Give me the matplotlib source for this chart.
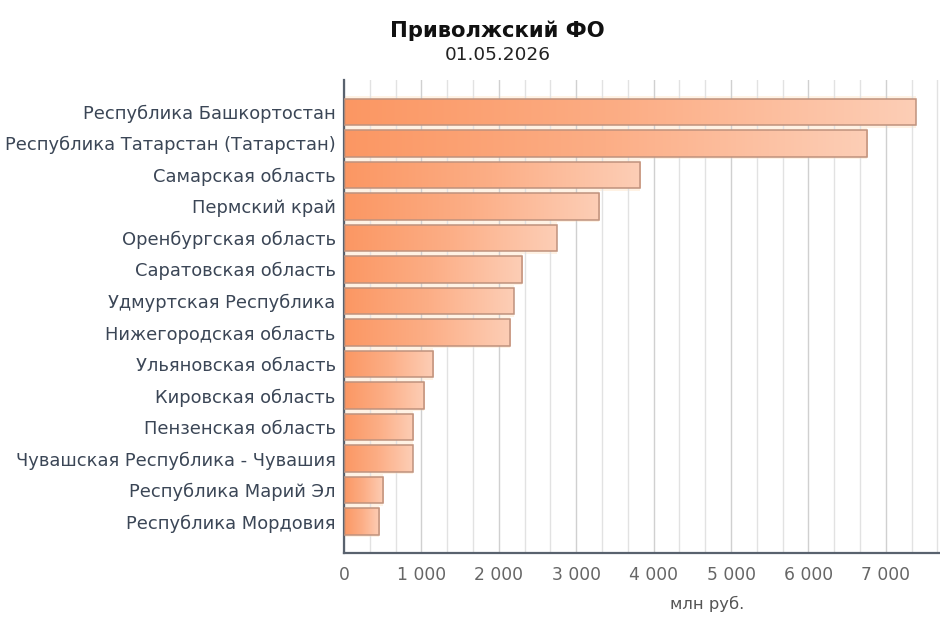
import numpy as np
import matplotlib
matplotlib.use('Agg')
import matplotlib.pyplot as plt
from matplotlib.colors import LinearSegmentedColormap
from matplotlib.ticker import MultipleLocator, FuncFormatter

plt.rcParams['font.family'] = ['DejaVu Sans']

regions = [
    'Республика Башкортостан',
    'Республика Татарстан (Татарстан)',
    'Самарская область',
    'Пермский край',
    'Оренбургская область',
    'Саратовская область',
    'Удмуртская Республика',
    'Нижегородская область',
    'Ульяновская область',
    'Кировская область',
    'Пензенская область',
    'Чувашская Республика - Чувашия',
    'Республика Марий Эл',
    'Республика Мордовия',
]
values = [7390, 6760, 3825, 3295, 2750, 2300, 2195, 2145, 1150, 1035, 895, 890, 505, 455]

title = 'Приволжский ФО'
date_label = '01.05.2026'
x_label = 'млн руб.'

fig = plt.figure(figsize=(9.4, 6.27), dpi=100)
ax = fig.add_axes([0.366, 0.118, 0.634, 0.754])

n = len(regions)
ypos = np.arange(n)
bar_h = 0.84
cmap = LinearSegmentedColormap.from_list('bar', ['#fb9763', '#fcae86', '#fdceb6'])
grad = np.linspace(0, 1, 256).reshape(1, -1)

# soft cream glow behind bars
ax.barh(ypos, values, height=1.0, color='#fff2e4', zorder=0.5, linewidth=0)

for y, v in zip(ypos, values):
    im = ax.imshow(grad, cmap=cmap, aspect='auto', zorder=2,
                   extent=(0, v, y + bar_h / 2, y - bar_h / 2), interpolation='bilinear')
    rect = ax.barh(y, v, height=bar_h, facecolor='none', edgecolor='#bf927d',
                   linewidth=1.1, zorder=3)[0]
    im.set_clip_path(rect)

ax.set_xlim(0, 7700)
ax.set_ylim(n, -1)

ax.xaxis.set_major_locator(MultipleLocator(1000))
ax.xaxis.set_minor_locator(MultipleLocator(1000 / 3))
ax.xaxis.set_major_formatter(FuncFormatter(lambda v, p: f'{int(v):,}'.replace(',', ' ')))
ax.grid(axis='x', which='major', color='#d0d0d0', linewidth=1.0, zorder=1)
ax.grid(axis='x', which='minor', color='#e2e2e2', linewidth=1.0, zorder=1)
ax.set_axisbelow(True)

ax.set_yticks(ypos)
ax.set_yticklabels(regions, fontsize=12.9, color='#3b4656')
ax.tick_params(axis='y', length=0, pad=6)
ax.tick_params(axis='x', which='both', length=0, pad=9, labelsize=12.3, labelcolor='#666666')

for s in ['top', 'right']:
    ax.spines[s].set_visible(False)
for s in ['left', 'bottom']:
    ax.spines[s].set_color('#59626e')
    ax.spines[s].set_linewidth(1.6)

ax.set_xlabel(x_label, fontsize=11.8, color='#555555')
ax.xaxis.set_label_coords(0.61, -0.09)

fig.text(0.529, 0.951, title, ha='center', va='center', fontsize=15.2, fontweight='bold', color='#111111')
fig.text(0.529, 0.912, date_label, ha='center', va='center', fontsize=13.3, color='#222222')

fig.savefig('out.png', dpi=100)
